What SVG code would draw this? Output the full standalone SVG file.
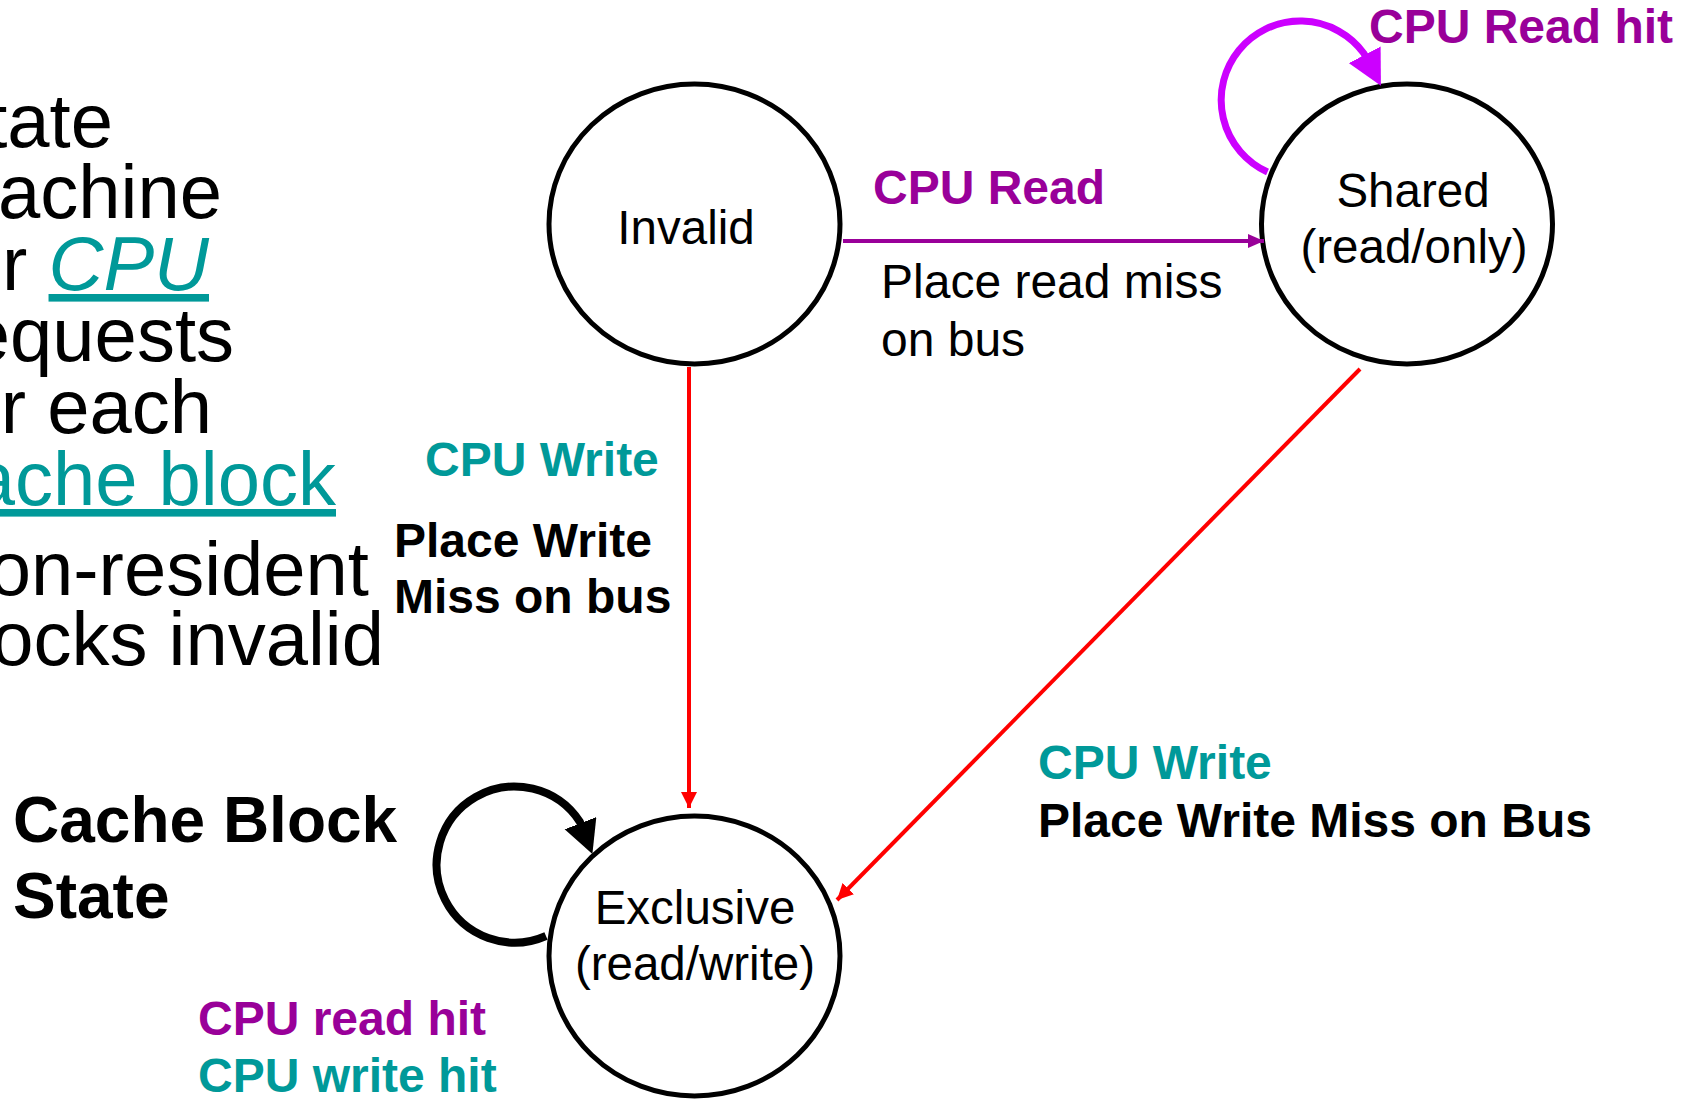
<svg xmlns="http://www.w3.org/2000/svg" width="1688" height="1099" viewBox="0 0 1688 1099">
  <style>
    .body { font-family: "Liberation Sans", Arial, sans-serif; font-size: 76px; fill: #000; }
    .teal { fill: #009999; }
    .state { font-family: "Liberation Sans", Arial, sans-serif; font-size: 47.5px; fill: #000; text-anchor: middle; }
    .lbl { font-family: "Liberation Sans", Arial, sans-serif; font-size: 48px; font-weight: bold; }
    .title { font-family: "Liberation Sans", Arial, sans-serif; font-size: 64px; font-weight: bold; fill: #000; }
    .plain { font-family: "Liberation Sans", Arial, sans-serif; font-size: 48px; fill: #000; }
    .purple { fill: #990099; }
    .node { fill: #fff; stroke: #000; stroke-width: 5; }
    .red { fill: none; stroke: #ff0000; stroke-width: 4; }
  </style>
  <defs>
    <marker id="arrowRed" markerUnits="userSpaceOnUse" markerWidth="16" markerHeight="16" refX="16" refY="8" orient="auto">
      <path d="M0,0 L16,8 L0,16 z" fill="#ff0000"/>
    </marker>
    <marker id="arrowPurple" markerUnits="userSpaceOnUse" markerWidth="16" markerHeight="16" refX="16" refY="8" orient="auto">
      <path d="M0,1 L16,8 L0,15 z" fill="#990099"/>
    </marker>
    <marker id="loopMagenta" markerUnits="userSpaceOnUse" markerWidth="36" markerHeight="36" refX="2" refY="18" orient="auto">
      <path d="M0,0 L35,18 L0,36 z" fill="#cc00ff"/>
    </marker>
    <marker id="loopBlack" markerUnits="userSpaceOnUse" markerWidth="36" markerHeight="36" refX="2" refY="17" orient="auto">
      <path d="M0,0 L33,17 L0,34 z" fill="#000"/>
    </marker>
  </defs>

  <rect width="1688" height="1099" fill="#fff"/>

  <!-- bullet text running off the left edge -->
  <g id="bullets" class="body" text-anchor="end">
    <text x="113" y="147">tate</text>
    <text x="222" y="218">achine</text>
    <text x="209" y="290">r <tspan class="teal" font-style="italic" text-decoration="underline">CPU</tspan></text>
    <text x="234" y="361">equests</text>
    <text x="212" y="433">r each</text>
    <text x="336" y="505" class="teal" text-decoration="underline">ache block</text>
    <text x="369" y="595">on-resident</text>
    <text x="384" y="665">ocks invalid</text>
  </g>

  <g id="title">
    <text class="title" x="13" y="842">Cache Block</text>
    <text class="title" x="13" y="918">State</text>
  </g>

  <!-- states -->
  <g id="invalid">
    <ellipse class="node" cx="694.5" cy="224" rx="145.5" ry="140"/>
    <text class="state" x="686" y="244">Invalid</text>
  </g>
  <g id="shared">
    <ellipse class="node" cx="1407" cy="224" rx="145.5" ry="140"/>
    <text class="state" x="1413" y="207">Shared</text>
    <text class="state" x="1414" y="263">(read/only)</text>
  </g>
  <g id="exclusive">
    <ellipse class="node" cx="694.5" cy="956" rx="145.5" ry="140"/>
    <text class="state" x="695" y="924">Exclusive</text>
    <text class="state" x="695" y="980">(read/write)</text>
  </g>

  <!-- transitions -->
  <g id="connectors">
    <line x1="843" y1="241" x2="1264" y2="241" stroke="#990099" stroke-width="4" marker-end="url(#arrowPurple)"/>
    <line class="red" x1="689" y1="367" x2="689" y2="808" marker-end="url(#arrowRed)"/>
    <line class="red" x1="1360" y1="369" x2="837" y2="900" marker-end="url(#arrowRed)"/>
    <path d="M1267.5,172 A79,79 0 1 1 1364,53.5 l1.6,3.05" fill="none" stroke="#cc00ff" stroke-width="7" marker-end="url(#loopMagenta)"/>
    <path d="M546,936 A78,78 0 1 1 580,822 l1.2,3.1" fill="none" stroke="#000" stroke-width="8" marker-end="url(#loopBlack)"/>
  </g>

  <!-- transition labels -->
  <g id="labels">
    <text class="lbl purple" x="1369" y="43">CPU Read hit</text>
    <text class="lbl purple" x="873" y="204">CPU Read</text>
    <text class="plain" x="881" y="298">Place read miss</text>
    <text class="plain" x="881" y="356">on bus</text>
    <text class="lbl teal" x="425" y="476">CPU Write</text>
    <text class="lbl" x="394" y="557">Place Write</text>
    <text class="lbl" x="394" y="613">Miss on bus</text>
    <text class="lbl teal" x="1038" y="779">CPU Write</text>
    <text class="lbl" x="1038" y="837">Place Write Miss on Bus</text>
    <text class="lbl purple" x="198" y="1035">CPU read hit</text>
    <text class="lbl teal" x="198" y="1092">CPU write hit</text>
  </g>
</svg>
